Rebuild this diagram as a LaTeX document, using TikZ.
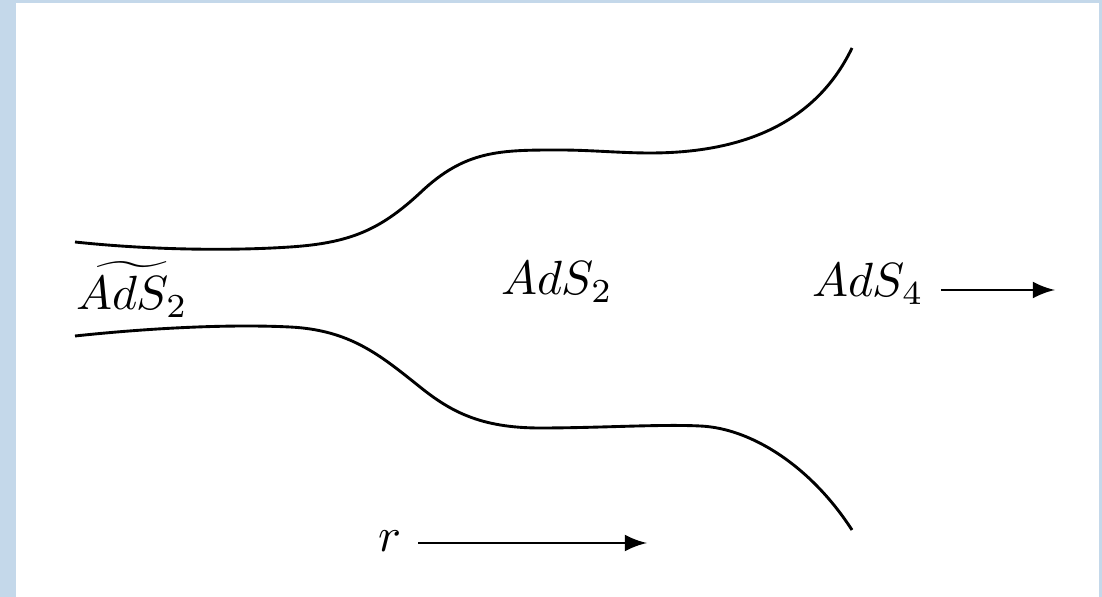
\documentclass[tikz,border=0pt]{standalone}
\usepackage{amsmath}
\definecolor{frameblue}{RGB}{196,216,234}
\tikzset{
  wall/.style={semithick, black},
  dirarrow/.style={-latex, semithick}
}
\begin{document}
\begin{tikzpicture}[x=20.83pt, y=20.83pt]

% Frame
\useasboundingbox (0, 0) rectangle (11.02, 5.97);
\fill[frameblue] (0, 0) rectangle (11.02, 5.97);
\fill[white] (0.16, 0) rectangle (10.99, 5.94);

% Upper curve
\draw[wall] (0.75, 3.55) .. controls (1.50, 3.47) and (2.30, 3.46) .. (2.90, 3.50)
  .. controls (3.50, 3.54) and (3.80, 3.67) .. (4.20, 4.04)
  .. controls (4.65, 4.47) and (5.00, 4.47) .. (5.60, 4.47)
  .. controls (5.90, 4.47) and (6.20, 4.44) .. (6.50, 4.44)
  .. controls (7.40, 4.44) and (8.15, 4.72) .. (8.52, 5.49);

% Lower curve
\draw[wall] (0.75, 2.61) .. controls (1.50, 2.69) and (2.30, 2.73) .. (2.90, 2.70)
  .. controls (3.50, 2.67) and (3.80, 2.42) .. (4.20, 2.10)
  .. controls (4.50, 1.86) and (4.80, 1.69) .. (5.40, 1.69)
  .. controls (6.00, 1.69) and (6.60, 1.73) .. (7.00, 1.71)
  .. controls (7.50, 1.69) and (8.10, 1.32) .. (8.52, 0.67);

% Labels
\node (adstilde) at (1.32, 2.87) [anchor=base] {$\widetilde{AdS_2}$};
\node (adstwo) at (5.57, 3.02) [anchor=base] {$AdS_2$};
\node (adsfour) at (8.68, 3.00) [anchor=base] {$AdS_4$};
\node (r) at (3.90, 0.45) [anchor=base] {$r$};

% Arrows
\coordinate (adsend) at (10.55, 3.07);
\draw[dirarrow] (adsfour.east |- adsend) -- (adsend);
\coordinate (rend) at (6.47, 0.54);
\draw[dirarrow] (r.east |- rend) -- (rend);

\end{tikzpicture}
\end{document}
